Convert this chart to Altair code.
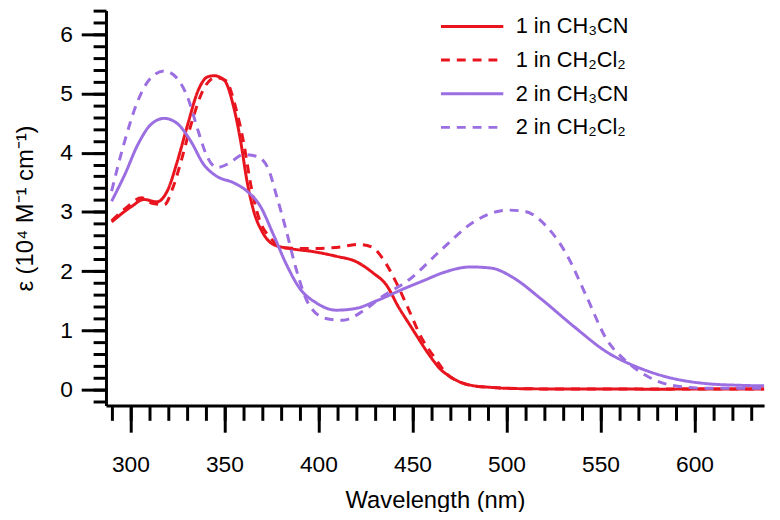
import altair as alt
import pandas as pd

FONT = "Liberation Sans"

series_names = ["1 in CH₃CN", "1 in CH₂Cl₂", "2 in CH₃CN", "2 in CH₂Cl₂"]
series_colors = ["#E8141E", "#E8141E", "#9B6EE1", "#9B6EE1"]
series_dashes = [[1, 0], [9, 7], [1, 0], [9, 7]]

wl_1_ch3cn = [290, 301, 307, 314, 320, 325, 330.5, 336, 341, 344.6, 350, 355, 358.6, 362, 365.6, 370, 376, 385,
              397, 409.5, 420, 429, 436, 443, 448, 452, 459, 465.6, 469, 475, 483, 490, 500, 520, 550, 580, 610, 640]
eps_1_ch3cn = [2.83, 3.10, 3.21, 3.17, 3.38, 3.86, 4.48, 5.05, 5.28, 5.30, 5.22, 4.76, 4.20, 3.52, 3.01, 2.67, 2.45, 2.38,
               2.33, 2.25, 2.16, 1.97, 1.77, 1.37, 1.12, 0.92, 0.58, 0.32, 0.24, 0.13, 0.06, 0.04, 0.02, 0.01, 0.01, 0.005, 0.01, 0.01]

wl_1_ch2cl2 = [290, 297, 306, 311, 318, 322.6, 327, 332.3, 339.3, 345.4, 350.7, 356, 360.4, 364, 368.3, 374.4, 383, 397,
               409.5, 421.7, 428.8, 434, 441, 448, 455, 458.6, 462, 469, 475, 483, 495, 520, 560, 600, 640]
eps_1_ch2cl2 = [2.85, 3.05, 3.24, 3.15, 3.12, 3.41, 3.86, 4.48, 5.10, 5.27, 5.22, 4.76, 4.14, 3.46, 2.90, 2.56, 2.39, 2.38,
                2.40, 2.45, 2.40, 2.22, 1.83, 1.35, 0.86, 0.68, 0.53, 0.24, 0.13, 0.06, 0.03, 0.01, 0.01, 0.01, 0.01]

wl_2_ch3cn = [290, 297, 304, 311, 318, 325, 332, 339, 346, 355, 362, 369, 376, 383, 390, 399, 409.5, 420, 431, 446,
              456, 466, 481, 492, 504, 518, 536, 553, 571, 588, 606, 625, 640]
eps_2_ch3cn = [3.18, 3.63, 4.14, 4.48, 4.58, 4.49, 4.20, 3.80, 3.60, 3.49, 3.35, 3.10, 2.62, 2.11, 1.71, 1.46, 1.34, 1.37,
               1.50, 1.71, 1.84, 1.97, 2.07, 2.05, 1.88, 1.54, 1.06, 0.64, 0.36, 0.19, 0.10, 0.07, 0.06]

wl_2_ch2cl2 = [290, 297, 304, 311, 318, 325, 330.5, 336, 341, 346, 353, 360, 367, 373, 378, 383, 388, 395, 404, 413,
               423.5, 434, 448, 466, 483, 500.7, 509.5, 522, 532, 543, 553, 564, 574, 588, 606, 640]
eps_2_ch2cl2 = [3.35, 4.20, 4.88, 5.27, 5.38, 5.25, 4.93, 4.37, 3.92, 3.75, 3.83, 3.97, 3.94, 3.75, 3.24, 2.67, 2.05, 1.43,
                1.20, 1.17, 1.32, 1.57, 1.85, 2.38, 2.84, 3.03, 3.01, 2.73, 2.28, 1.54, 0.86, 0.47, 0.24, 0.07, 0.02, 0.02]

x_major = [300, 350, 400, 450, 500, 550, 600]
x_minor = list(range(290, 640, 10))
y_major = [0, 1, 2, 3, 4, 5, 6]
y_minor = [round(-0.2 + 0.2 * i, 1) for i in range(34)]

rows = []
for name, wls, eps in zip(series_names,
                          [wl_1_ch3cn, wl_1_ch2cl2, wl_2_ch3cn, wl_2_ch2cl2],
                          [eps_1_ch3cn, eps_1_ch2cl2, eps_2_ch3cn, eps_2_ch2cl2]):
    for w, e in zip(wls, eps):
        rows.append({"series": name, "wl": w, "eps": e})
df = pd.DataFrame(rows)

# wide line symbol: path spans 3x the nominal symbol radius on each side
legend_cfg = dict(title=None, orient="none", legendX=358, legendY=4, symbolType="M-3,0H3",
                  symbolSize=441, symbolStrokeWidth=3, labelFontSize=22, labelFont=FONT,
                  labelColor="black", labelOffset=32, rowPadding=11, padding=0)

x_scale = alt.Scale(domain=[287, 637], nice=False, zero=False)
y_scale = alt.Scale(domain=[-0.27, 6.4], nice=False, zero=False)

common_axis = dict(tickWidth=3, tickColor="black", grid=False, labelFont=FONT, labelFontSize=23,
                   labelColor="black", titleFont=FONT, titleFontSize=24, titleFontWeight="normal",
                   titleColor="black", domainColor="black", domainWidth=3, labelFlush=False,
                   labelOverlap=False, offset=0)

lines = alt.Chart(df).mark_line(strokeWidth=3, interpolate="monotone", clip=True).encode(
    x=alt.X("wl:Q", scale=x_scale,
            axis=alt.Axis(values=x_major, tickSize=27, orient="bottom", labelPadding=22,
                          title="Wavelength (nm)", titlePadding=12, **common_axis)),
    y=alt.Y("eps:Q", scale=y_scale,
            axis=alt.Axis(values=y_major, tickSize=25, orient="left", labelPadding=9,
                          title="ε (10⁴ M⁻¹ cm⁻¹)", titlePadding=22, **common_axis)),
    color=alt.Color("series:N", scale=alt.Scale(domain=series_names, range=series_colors),
                    legend=alt.Legend(**legend_cfg)),
    strokeDash=alt.StrokeDash("series:N", scale=alt.Scale(domain=series_names, range=series_dashes),
                              legend=alt.Legend(**legend_cfg)),
)

minor = alt.Chart(df).mark_line(opacity=0).encode(
    x=alt.X("wl:Q", axis=alt.Axis(values=x_minor, tickSize=15, orient="bottom", labels=False,
                                  domain=False, title=None, ticks=True, tickWidth=3,
                                  tickColor="black", grid=False, offset=0)),
    y=alt.Y("eps:Q", axis=alt.Axis(values=y_minor, tickSize=13, orient="left", labels=False,
                                   domain=False, title=None, ticks=True, tickWidth=3,
                                   tickColor="black", grid=False, offset=0)),
    detail="series:N",
)

chart = alt.layer(lines, minor).resolve_axis(x="independent", y="independent").properties(
    width=665, height=399, autosize="none",
    padding={"left": 99, "top": 0, "right": 8, "bottom": 105},
).configure_view(stroke=None)

chart.save("out.html", embed_options={"renderer": "svg", "actions": False})
